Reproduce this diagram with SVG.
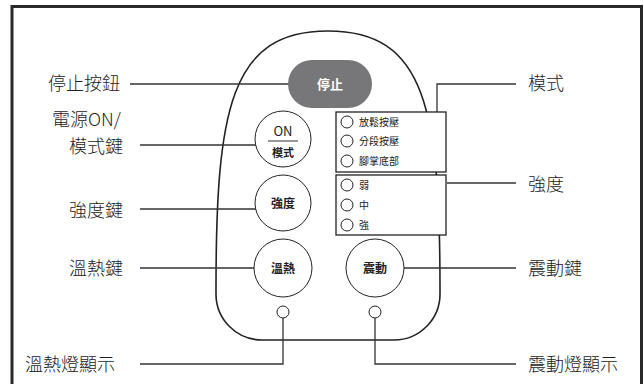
<svg xmlns="http://www.w3.org/2000/svg" width="644" height="384" viewBox="0 0 644 384">
<style>
.lbl{font-family:"Noto Sans CJK TC","Noto Sans CJK SC",sans-serif;font-size:18px;font-weight:300;fill:#222;}
.btn{font-family:"Noto Sans CJK TC","Noto Sans CJK SC",sans-serif;font-size:12px;font-weight:bold;fill:#222;text-anchor:middle;}
.itm{font-family:"Noto Sans CJK TC","Noto Sans CJK SC",sans-serif;font-size:10px;fill:#222;}
.ln{stroke:#333;stroke-width:1.3;fill:none;}
.ol{stroke:#222;stroke-width:1;fill:#fff;}
</style>
<rect x="0" y="0" width="644" height="384" fill="#fff"/>
<path d="M12,390 V6.5 H641.5 V390" fill="none" stroke="#2a2a2a" stroke-width="3"/>
<g id="body"><path d="M262,340 H394 A46 46 0 0 0 440,294 V290 C440,110 426,31 328,31 C230,31 216,110 216,290 V294 A46 46 0 0 0 262,340 Z" fill="none" stroke="#222" stroke-width="1.6"/></g>
<g id="connectors">
<path class="ln" d="M130,84 H290"/>
<path class="ln" d="M140,145 H256"/>
<path class="ln" d="M140,209 H256"/>
<path class="ln" d="M140,268 H255"/>
<path class="ln" d="M140,364 H283 V318"/>
<path class="ln" d="M516,84 H437 V112"/>
<path class="ln" d="M516,183 H447"/>
<path class="ln" d="M516,268 H404"/>
<path class="ln" d="M516,364 H375 V318"/>
</g>
<g id="stop"><rect x="288" y="60" width="84" height="48" rx="24" fill="#77777a"/><text x="330" y="89" class="btn" style="fill:#fff;font-size:13px">停止</text></g>
<g id="on"><circle cx="283" cy="139" r="28" class="ol"/><text x="283" y="136" class="btn" style="font-size:13px;font-weight:normal">ON</text><line x1="268" y1="141" x2="298" y2="141" stroke="#333" stroke-width="1"/><text x="283" y="157" class="btn" style="font-size:11px">模式</text></g>
<g id="qiangdu"><circle cx="283" cy="203" r="28" class="ol"/><text x="283" y="208" class="btn">強度</text></g>
<g id="wenre"><circle cx="283" cy="268" r="29" class="ol"/><text x="283" y="273" class="btn">溫熱</text></g>
<g id="zhendong"><circle cx="375" cy="268" r="29" class="ol"/><text x="375" y="273" class="btn">震動</text></g>
<g id="led1"><circle cx="283" cy="312" r="6" class="ol"/></g>
<g id="led2"><circle cx="375" cy="312" r="6" class="ol"/></g>
<g id="modebox"><rect x="336" y="112" width="110" height="60" fill="#fff" stroke="#222" stroke-width="1.3"/>
<circle cx="347" cy="122" r="6" class="ol"/><text x="359" y="125.5" class="itm">放鬆按壓</text>
<circle cx="347" cy="141" r="6" class="ol"/><text x="359" y="144.5" class="itm">分段按壓</text>
<circle cx="347" cy="161" r="6" class="ol"/><text x="359" y="164.5" class="itm">腳掌底部</text></g>
<g id="intbox"><rect x="336" y="175" width="110" height="60" fill="#fff" stroke="#222" stroke-width="1.3"/>
<circle cx="347" cy="185" r="6" class="ol"/><text x="359" y="188.5" class="itm">弱</text>
<circle cx="347" cy="205" r="6" class="ol"/><text x="359" y="208.5" class="itm">中</text>
<circle cx="347" cy="225" r="6" class="ol"/><text x="359" y="228.5" class="itm">強</text></g>
<g id="labels">
<text x="48" y="90" class="lbl">停止按鈕</text>
<text x="52" y="126" class="lbl">電源ON/</text>
<text x="69" y="153" class="lbl">模式鍵</text>
<text x="69" y="217" class="lbl">強度鍵</text>
<text x="69" y="275" class="lbl">溫熱鍵</text>
<text x="25" y="371" class="lbl">溫熱燈顯示</text>
<text x="528" y="90" class="lbl">模式</text>
<text x="528" y="191" class="lbl">強度</text>
<text x="528" y="275" class="lbl">震動鍵</text>
<text x="528" y="371" class="lbl">震動燈顯示</text>
</g>
</svg>
